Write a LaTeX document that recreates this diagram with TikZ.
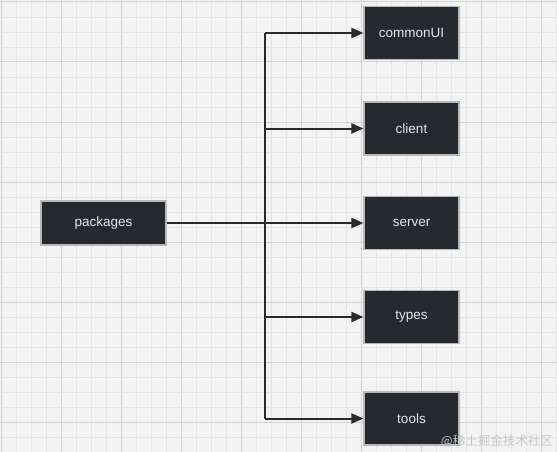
\documentclass[tikz,border=0pt]{standalone}
\usepackage{fontspec}
\setmainfont{Liberation Sans}
\newfontfamily\cjkfont{Noto Sans CJK SC}
\usetikzlibrary{arrows.meta}
\definecolor{bgc}{HTML}{F3F3F3}
\definecolor{minorc}{HTML}{E4E4E4}
\definecolor{majorc}{HTML}{D4D4D4}
\definecolor{boxfill}{HTML}{242A30}
\definecolor{boxline}{HTML}{B8B8B8}
\definecolor{edgec}{HTML}{2A2A2A}
\definecolor{txtc}{HTML}{E6E6E6}
\definecolor{wmc}{HTML}{C8C8C8}
\tikzset{
  pbox/.style={draw=boxline, line width=1.2pt, fill=boxfill, text=txtc,
    minimum width=95pt, minimum height=53pt, inner sep=0pt,
    font=\fontsize{13.5}{16}\selectfont},
  link/.style={draw=edgec, line width=2pt},
  arr/.style={link, -{Triangle[length=12pt,width=10pt]}},
}
\begin{document}
\begin{tikzpicture}[x=1pt,y=-1pt]
\useasboundingbox (0,0) rectangle (557,452);
\fill[bgc] (0,0) rectangle (557,452);
\foreach \i in {0,...,37} {
  \pgfmathtruncatemacro{\m}{mod(\i,4)}
  \ifnum\m=0
    \draw[majorc, line width=1pt] ({1+15*\i},0) -- ({1+15*\i},452);
  \else
    \draw[minorc, line width=0.9pt] ({1+15*\i},0) -- ({1+15*\i},452);
  \fi
}
\foreach \j in {0,...,30} {
  \pgfmathtruncatemacro{\m}{mod(\j,4)}
  \ifnum\m=0
    \draw[majorc, line width=1pt] (0,{2+15*\j}) -- (557,{2+15*\j});
  \else
    \draw[minorc, line width=0.9pt] (0,{2+15*\j}) -- (557,{2+15*\j});
  \fi
}

\node[pbox, minimum width=125pt, minimum height=44pt] (packages) at (103.5,223) {packages};
\node[pbox] (commonUI) at (411.5,33) {commonUI};
\node[pbox] (client) at (411.5,128.5) {client};
\node[pbox] (server) at (411.5,223) {server};
\node[pbox] (types) at (411.5,317) {types};
\node[pbox] (tools) at (411.5,418.5) {tools};

\coordinate (jtop) at (265,33);
\coordinate (jclient) at (265,128.5);
\coordinate (jserver) at (265,223);
\coordinate (jtypes) at (265,317);
\coordinate (jbot) at (265,418.5);

\draw[link] (jtop) -- (jbot);
\draw[arr] (packages.east) -- (server.west);
\draw[arr] (jtop) -- (commonUI.west);
\draw[arr] (jclient) -- (client.west);
\draw[arr] (jtypes) -- (types.west);
\draw[arr] (jbot) -- (tools.west);

\node[anchor=south east, inner sep=0pt, text=wmc, font=\cjkfont\fontsize{12.5}{14}\selectfont] (wm) at (553,448) {@稀土掘金技术社区};
\end{tikzpicture}
\end{document}
